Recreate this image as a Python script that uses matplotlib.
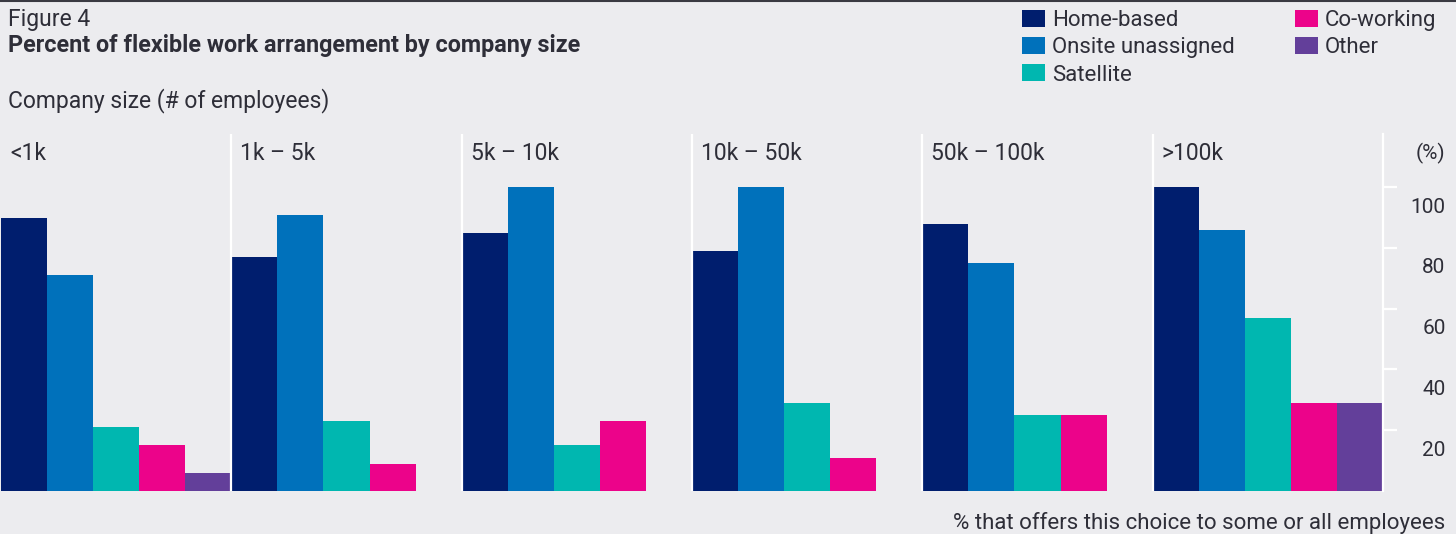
import matplotlib.pyplot as plt
from matplotlib.patches import Patch

plt.rcParams['font.family'] = ['Roboto', 'DejaVu Sans']

GROUPS = ["<1k", "1k – 5k", "5k – 10k", "10k – 50k", "50k – 100k", ">100k"]
SERIES = ["Home-based", "Onsite unassigned", "Satellite", "Co-working", "Other"]
COLORS = ["#001e6e", "#0071bb", "#00b7b0", "#ec038a", "#633f9a"]

home_based = [90, 77, 85, 79, 88, 100]
onsite_unassigned = [71, 91, 100, 100, 75, 86]
satellite = [21, 23, 15, 29, 25, 57]
co_working = [15, 9, 23, 11, 25, 29]
other = [6, 0, 0, 0, 0, 29]

Y_TICKS = [20, 40, 60, 80, 100]

BG = "#ececef"
TXT = "#2e2e38"
FS = 16.5

W, H = 1456, 534
fig = plt.figure(figsize=(W / 100, H / 100), dpi=100, facecolor=BG)
ax = fig.add_axes([1 / W, 1 - 491 / H, 1382 / W, 357 / H], facecolor=BG)

values = [home_based, onsite_unassigned, satellite, co_working, other]
handles = []
for s, (name, vals, col) in enumerate(zip(SERIES, values, COLORS)):
    xs = [g * 5 + s + 0.5 for g in range(len(GROUPS))]
    ax.bar(xs, vals, width=1.0, color=col, label=name, linewidth=0)
    handles.append(Patch(facecolor=col, label=name))

ax.set_xlim(0, 30)
ax.set_ylim(0, 117.5)

for g in range(1, len(GROUPS)):
    ax.axvline(g * 5, color="white", lw=1.6, zorder=3)
for g, lab in enumerate(GROUPS):
    ax.annotate(lab, xy=(g * 5, 1), xycoords=("data", "axes fraction"),
                xytext=(6.5, -19), textcoords="offset points",
                ha="left", va="baseline", fontsize=FS, color=TXT)

for sp in ["left", "top", "bottom"]:
    ax.spines[sp].set_visible(False)
ax.spines["right"].set_color("white")
ax.spines["right"].set_linewidth(1.6)

ax.set_xticks([])
ax.yaxis.tick_right()
ax.set_yticks(Y_TICKS)
ax.set_yticklabels([])
ax.tick_params(axis="y", direction="out", length=10, width=1.6, color="white")
for v in Y_TICKS:
    ax.annotate(str(v), xy=(1, v), xycoords=("axes fraction", "data"),
                xytext=(45, -14.4), textcoords="offset points",
                ha="right", va="center", fontsize=15, color=TXT)
ax.annotate("(%)", xy=(1, 1), xycoords="axes fraction",
            xytext=(45, -14), textcoords="offset points",
            ha="right", va="center", fontsize=15, color=TXT)

# header texts
fig.text(8 / W, 1 - 26 / H, "Figure 4", fontsize=FS, color=TXT, va="baseline")
fig.text(8 / W, 1 - 52 / H, "Percent of flexible work arrangement by company size",
         fontsize=16.8, fontweight="bold", color=TXT, va="baseline")
fig.text(8 / W, 1 - 107 / H, "Company size (# of employees)", fontsize=FS,
         color=TXT, va="baseline")
fig.text(1445 / W, 1 - 529 / H, "% that offers this choice to some or all employees",
         fontsize=16, color=TXT, ha="right", va="baseline")

fig.legend(handles=handles, loc="upper left", bbox_to_anchor=(1022 / W, 1 - 10 / H),
           ncol=2, frameon=False, fontsize=16, handlelength=1.04, handleheight=0.77,
           handletextpad=0.32, labelspacing=0.28, columnspacing=2.7,
           borderpad=0, borderaxespad=0, labelcolor=TXT)

fig.add_artist(plt.Line2D([0, 1], [1 - 1 / H, 1 - 1 / H], color="#3a3a42", lw=1.5))

fig.savefig("out.png", dpi=100, facecolor=BG)
